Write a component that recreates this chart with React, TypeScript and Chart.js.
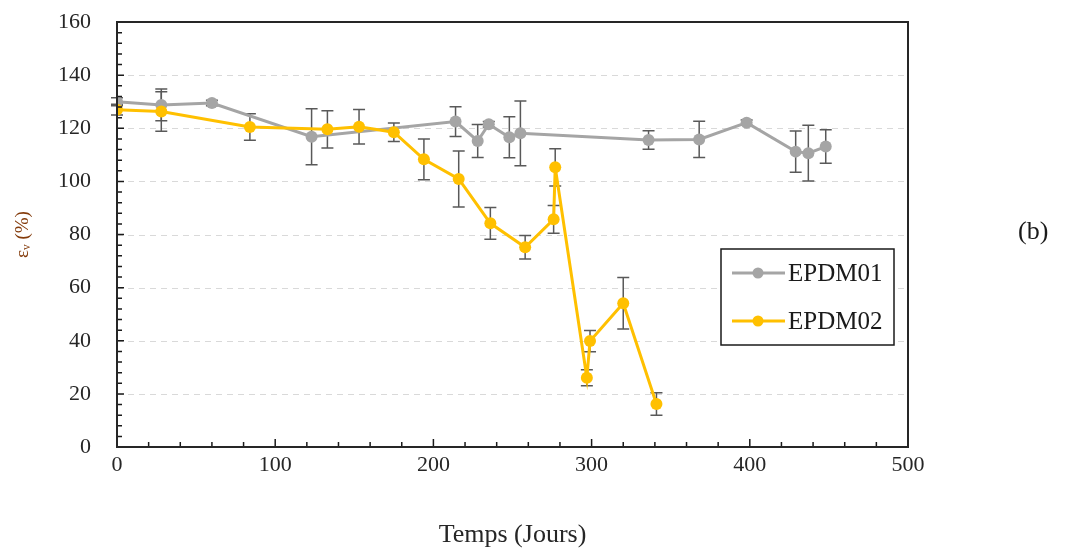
import { useEffect, useRef } from "react";
import { Chart, registerables } from "chart.js";

Chart.register(...registerables);

// ---- Data ----
const days01 = [0, 28, 60, 123, 214, 228, 235, 248, 255, 336, 368, 398, 429, 437, 448];
const values01 = [130, 128.8, 129.5, 116.8, 122.5, 115.2, 121.5, 116.6, 118.1, 115.6, 115.8, 122.1, 111.2, 110.6, 113.1];
const err01 = [1.5, 6, 1, 10.5, 5.6, 6.2, 1, 7.7, 12.2, 3.5, 6.8, 1, 7.8, 10.5, 6.3];

const days02 = [0, 28, 84, 133, 153, 175, 194, 216, 236, 258, 276, 277, 297, 299, 320, 341];
const values02 = [127, 126.3, 120.5, 119.6, 120.6, 118.5, 108.3, 100.9, 84.2, 75.2, 85.7, 105.3, 26.1, 39.9, 54.1, 16.2];
const err02 = [2, 7.4, 5, 7, 6.5, 3.5, 7.7, 10.5, 6, 4.4, 5.2, 7, 3, 4, 9.7, 4.2];

const seriesNames = ["EPDM01", "EPDM02"];
const seriesColors = ["#a5a5a5", "#ffc000"];
const xTitle = "Temps (Jours)";
const yTitle = "\u03b5\u1d65 (%)";
const panelLabel = "(b)";

const xMin = 0, xMax = 500, xStep = 100, xMinor = 20;
const yMin = 0, yMax = 160, yStep = 20, yMinor = 4;

const SERIF = "'Liberation Serif', 'DejaVu Serif', serif";

const errorBarPlugin = {
  id: "errorBars",
  beforeDatasetsDraw(chart: any) {
    const ctx = chart.ctx;
    const xs = chart.scales.x;
    const ys = chart.scales.y;
    const sets = [
      { d: days01, v: values01, e: err01 },
      { d: days02, v: values02, e: err02 },
    ];
    ctx.save();
    ctx.strokeStyle = "#595959";
    ctx.lineWidth = 1.5;
    sets.forEach((s) => {
      s.d.forEach((day, i) => {
        const px = xs.getPixelForValue(day);
        const top = ys.getPixelForValue(s.v[i] + s.e[i]);
        const bot = ys.getPixelForValue(s.v[i] - s.e[i]);
        ctx.beginPath();
        ctx.moveTo(px, top);
        ctx.lineTo(px, bot);
        ctx.moveTo(px - 6, top);
        ctx.lineTo(px + 6, top);
        ctx.moveTo(px - 6, bot);
        ctx.lineTo(px + 6, bot);
        ctx.stroke();
      });
    });
    ctx.restore();
  },
};

const framePlugin = {
  id: "frame",
  beforeDatasetsDraw(chart: any) {
    const ctx = chart.ctx;
    const a = chart.chartArea;
    const ys = chart.scales.y;
    ctx.save();
    ctx.strokeStyle = "#d9d9d9";
    ctx.lineWidth = 1;
    ctx.setLineDash([6, 5]);
    for (let v = yMin + yStep; v < yMax; v += yStep) {
      const py = Math.round(ys.getPixelForValue(v)) + 0.5;
      ctx.beginPath();
      ctx.moveTo(a.left, py);
      ctx.lineTo(a.right, py);
      ctx.stroke();
    }
    ctx.restore();
  },
  afterDraw(chart: any) {
    const ctx = chart.ctx;
    const a = chart.chartArea;
    const xs = chart.scales.x;
    const ys = chart.scales.y;
    ctx.save();
    ctx.strokeStyle = "#1a1a1a";
    ctx.lineWidth = 1.5;
    ctx.beginPath();
    for (let v = xMin; v <= xMax; v += xMinor) {
      const px = xs.getPixelForValue(v);
      const len = v % xStep === 0 ? 8 : 5;
      ctx.moveTo(px, a.bottom);
      ctx.lineTo(px, a.bottom - len);
    }
    for (let v = yMin; v <= yMax; v += yMinor) {
      const py = ys.getPixelForValue(v);
      const len = v % yStep === 0 ? 7 : 5;
      ctx.moveTo(a.left, py);
      ctx.lineTo(a.left + len, py);
    }
    ctx.stroke();
    ctx.lineWidth = 2;
    ctx.strokeStyle = "#262626";
    ctx.strokeRect(a.left, a.top, a.right - a.left, a.bottom - a.top);

    // legend
    const bx = a.right - 187;
    const by = a.top + 227;
    const bw = 173;
    const bh = 96;
    ctx.fillStyle = "#ffffff";
    ctx.fillRect(bx, by, bw, bh);
    ctx.lineWidth = 1.5;
    ctx.strokeStyle = "#1a1a1a";
    ctx.strokeRect(bx, by, bw, bh);
    const rows = [by + 24, by + 72];
    chart.data.datasets.forEach((ds: any) => {
      const idx = seriesNames.indexOf(ds.label);
      const ry = rows[idx];
      ctx.strokeStyle = ds.borderColor;
      ctx.lineWidth = 3;
      ctx.beginPath();
      ctx.moveTo(bx + 11, ry);
      ctx.lineTo(bx + 64, ry);
      ctx.stroke();
      ctx.fillStyle = ds.borderColor;
      ctx.beginPath();
      ctx.arc(bx + 37, ry, 5.5, 0, Math.PI * 2);
      ctx.fill();
      ctx.fillStyle = "#1a1a1a";
      ctx.font = `25px ${SERIF}`;
      ctx.textBaseline = "middle";
      ctx.textAlign = "left";
      ctx.fillText(ds.label, bx + 67, ry + 1);
    });
    ctx.restore();
  },
};

export default function App() {
  const canvasRef = useRef<HTMLCanvasElement | null>(null);

  useEffect(() => {
    if (!canvasRef.current) return;
    const mk = (d: number[], v: number[]) => d.map((x, i) => ({ x, y: v[i] }));
    const chart = new Chart(canvasRef.current, {
      type: "line",
      data: {
        datasets: [
          {
            label: seriesNames[0],
            data: mk(days01, values01),
            borderColor: seriesColors[0],
            backgroundColor: seriesColors[0],
            borderWidth: 3,
            pointRadius: 6,
            pointBorderWidth: 0,
            pointHoverRadius: 6,
            tension: 0,
            order: 2,
          },
          {
            label: seriesNames[1],
            data: mk(days02, values02),
            borderColor: seriesColors[1],
            backgroundColor: seriesColors[1],
            borderWidth: 3,
            pointRadius: 6,
            pointBorderWidth: 0,
            pointHoverRadius: 6,
            tension: 0,
            order: 1,
          },
        ],
      },
      options: {
        animation: false,
        responsive: false,
        devicePixelRatio: 1,
        layout: { padding: { left: 0, right: 158, top: 22, bottom: 0 } },
        plugins: {
          legend: { display: false },
          tooltip: { enabled: false },
        },
        scales: {
          x: {
            type: "linear",
            min: xMin,
            max: xMax,
            grid: { display: false, drawTicks: false },
            border: { display: false },
            ticks: {
              stepSize: xStep,
              padding: 5,
              color: "#262626",
              font: { family: SERIF, size: 22 },
            },
            title: {
              display: true,
              text: xTitle,
              color: "#262626",
              font: { family: SERIF, size: 26 },
              padding: { top: 0, bottom: 0 },
            },
            afterFit(scale: any) {
              scale.height = 104;
              scale.paddingLeft = 0;
              scale.paddingRight = 0;
            },
          },
          y: {
            type: "linear",
            min: yMin,
            max: yMax,
            grid: { display: false, drawTicks: false },
            border: { display: false },
            ticks: {
              stepSize: yStep,
              padding: 26,
              color: "#262626",
              font: { family: SERIF, size: 22 },
            },
            title: {
              display: true,
              text: yTitle,
              color: "#843c0c",
              font: { family: SERIF, size: 19 },
              padding: { top: 12, bottom: 0 },
            },
            afterFit(scale: any) {
              scale.width = 117;
              scale.paddingTop = 0;
              scale.paddingBottom = 0;
            },
          },
        },
      },
      plugins: [framePlugin, errorBarPlugin],
    } as any);
    return () => chart.destroy();
  }, []);

  return (
    <div style={{ position: "fixed", left: 0, top: 0, width: 1066, height: 551, background: "#fff" }}>
      <canvas ref={canvasRef} width={1066} height={551} style={{ width: 1066, height: 551, display: "block" }} />
      <div
        style={{
          position: "absolute",
          left: 1018,
          top: 216,
          fontFamily: SERIF,
          fontSize: 26,
          color: "#1a1a1a",
          lineHeight: "30px",
        }}
      >
        {panelLabel}
      </div>
    </div>
  );
}
